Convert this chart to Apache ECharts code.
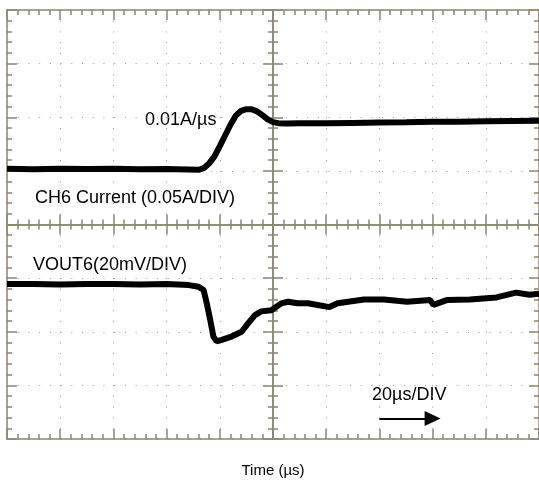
<!DOCTYPE html>
<html>
<head>
<meta charset="utf-8">
<script src="https://cdn.jsdelivr.net/npm/echarts@6/dist/echarts.min.js"></script>
<style>
html,body{margin:0;padding:0;background:#fff;}
#chart{width:539px;height:483px;}
</style>
</head>
<body>
<div id="chart"></div>
<script>
// Time in µs (20 µs/DIV), vertical values in screen divisions
const currentTime = [-100,-90,-80,-70,-60,-50,-40,-32,-28,-26,-24,-22,-20,-18,-16,-14,-12,-10,-8,-6,-4,-2,0,2,5,10,20,30,40,50,60,70,80,90,100];
const currentDiv  = [1.04,1.03,1.04,1.035,1.04,1.03,1.035,1.025,1.02,1.05,1.14,1.27,1.46,1.66,1.86,2.03,2.12,2.15,2.15,2.11,2.04,1.96,1.91,1.89,1.885,1.89,1.89,1.895,1.90,1.905,1.915,1.915,1.925,1.93,1.935];

const voutTime = [-100,-90,-80,-70,-60,-50,-40,-31.7,-28,-26.1,-24.9,-23.6,-22.4,-21.2,-19.3,-15.6,-11.8,-9.3,-6.8,-4.4,-0.6,3.1,5.6,9.3,13.1,16.8,21.2,24.3,34.2,41.7,50.4,59.1,60.3,65.3,74,84,91.4,96.4,100];
const voutDiv  = [-1.11,-1.11,-1.12,-1.11,-1.11,-1.12,-1.11,-1.13,-1.16,-1.22,-1.47,-1.78,-2.09,-2.18,-2.15,-2.09,-2.00,-1.84,-1.69,-1.62,-1.60,-1.47,-1.44,-1.47,-1.47,-1.50,-1.54,-1.47,-1.40,-1.40,-1.44,-1.41,-1.50,-1.41,-1.40,-1.36,-1.27,-1.31,-1.29];

const xTicks = {min:-100, max:100, interval:20};
const yTicks = {min:-4, max:4, interval:1};

const axisColor = '#8a8672';
const font = "'Liberation Sans', Arial, sans-serif";

function zip(a,b){return a.map((v,i)=>[v,b[i]]);}

function xAxisDef(pos, inside, onZero, extra){
  return Object.assign({
    type:'value', min:xTicks.min, max:xTicks.max, interval:xTicks.interval,
    position:pos,
    axisLine:{show:true, onZero:onZero, onZeroAxisIndex:0, lineStyle:{color:axisColor, width:1.5}},
    axisTick:{show:true, inside:inside, length:10, lineStyle:{color:axisColor, width:1.5}},
    minorTick:{show:true, splitNumber:5, length:5, lineStyle:{color:axisColor, width:1.5}},
    axisLabel:{show:false},
    splitLine:{show:false},
    minorSplitLine:{show:false}
  }, extra||{});
}
function yAxisDef(pos, inside, onZero, extra){
  return Object.assign({
    type:'value', min:yTicks.min, max:yTicks.max, interval:yTicks.interval,
    position:pos,
    axisLine:{show:true, onZero:onZero, onZeroAxisIndex:0, lineStyle:{color:axisColor, width:1.5}},
    axisTick:{show:true, inside:inside, length:10, lineStyle:{color:axisColor, width:1.5}},
    minorTick:{show:true, splitNumber:5, length:5, lineStyle:{color:axisColor, width:1.5}},
    axisLabel:{show:false},
    splitLine:{show:false},
    minorSplitLine:{show:false}
  }, extra||{});
}

const dotted = {show:true, lineStyle:{color:'#9a9788', width:1, type:[1,9.72]}};

const chart = echarts.init(document.getElementById('chart'), null, {renderer:'canvas'});
chart.setOption({
  animation:false,
  backgroundColor:'#ffffff',
  grid:{left:7, top:10, width:536, height:429, containLabel:false},
  xAxis:[
    xAxisDef('bottom', true, false, {splitLine:dotted, name:'Time (µs)', nameLocation:'middle', nameGap:24,
      nameTextStyle:{fontFamily:font, fontSize:15, color:'#000'}}),
    xAxisDef('top', true, false),
    xAxisDef('bottom', true, true),
    xAxisDef('bottom', false, true)
  ],
  yAxis:[
    yAxisDef('left', true, false, {splitLine:dotted}),
    yAxisDef('right', true, false),
    yAxisDef('left', true, true),
    yAxisDef('left', false, true)
  ],
  series:[
    {type:'line', name:'CH6 Current', xAxisIndex:0, yAxisIndex:0, data:zip(currentTime,currentDiv),
      showSymbol:false, symbol:'none', lineStyle:{color:'#000', width:6}, silent:true},
    {type:'line', name:'VOUT6', xAxisIndex:0, yAxisIndex:0, data:zip(voutTime,voutDiv),
      showSymbol:false, symbol:'none', lineStyle:{color:'#000', width:6}, silent:true,
      markLine:{silent:true, symbol:['none','triangle'], symbolSize:[15,16], label:{show:false},
        lineStyle:{color:'#000', width:2, type:'solid'},
        data:[[{coord:[40,-3.62]},{coord:[60,-3.62]}]]}}
  ],
  graphic:[
    {type:'text', x:145, y:120, style:{text:'0.01A/µs', font:'18px '+font, fill:'#000', verticalAlign:'middle'}},
    {type:'text', x:35, y:198, style:{text:'CH6 Current (0.05A/DIV)', font:'18px '+font, fill:'#000', verticalAlign:'middle'}},
    {type:'text', x:33, y:265, style:{text:'VOUT6(20mV/DIV)', font:'18px '+font, fill:'#000', verticalAlign:'middle'}},
    {type:'text', x:372, y:395, style:{text:'20µs/DIV', font:'18px '+font, fill:'#000', verticalAlign:'middle'}}
  ]
});
</script>
</body>
</html>
